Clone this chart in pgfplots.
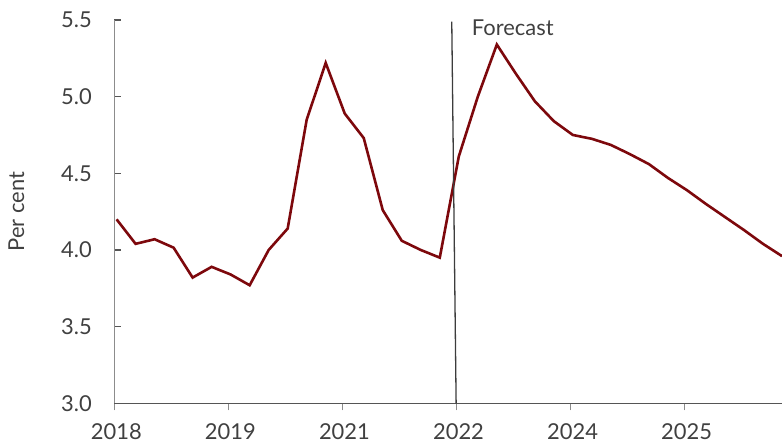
\documentclass[border=0pt]{standalone}
\usepackage{fontspec}
\setmainfont{Lato}
\usepackage{pgfplots}
\pgfplotsset{compat=1.18}
\definecolor{linered}{RGB}{125,8,12}
\definecolor{axisgray}{RGB}{140,140,140}
\definecolor{xaxisgray}{RGB}{85,85,85}
\definecolor{textgray}{RGB}{64,64,64}
\definecolor{fcgray}{RGB}{60,60,60}
\newcommand{\lblfont}{\fontsize{22}{26}\selectfont}
\begin{document}
\begin{tikzpicture}
\begin{axis}[
  scale only axis, width=667.7bp, height=383.3bp,
  xmin=-0.12, xmax=35, ymin=3, ymax=5.5,
  axis x line*=bottom, axis y line*=left,
  x axis line style={xaxisgray, line width=1.1bp, -},
  y axis line style={axisgray, line width=1.1bp, -},
  xtick={-0.12,5.88,11.88,17.88,23.88,29.88},
  xticklabels={2018,2019,2021,2022,2024,2025},
  ytick={3,3.5,4,4.5,5,5.5},
  /pgf/number format/assume math mode=true,
  yticklabel style={/pgf/number format/.cd, fixed, fixed zerofill, precision=1, /tikz/.cd, xshift=-19bp},
  xticklabel style={yshift=-10bp, xshift=2bp},
  xtick align=outside, ytick align=inside,
  xtick style={axisgray, line width=1.1bp},
  ytick style={xaxisgray, line width=1.1bp},
  major tick length=7bp,
  ticklabel style={font=\lblfont, text=textgray},
  ylabel={Per cent},
  every axis y label/.style={at={(axis description cs:-0.1468,0.5)}, rotate=90, anchor=center, font=\lblfont, text=textgray},
  clip=false,
]
\addplot[linered, line width=2.6bp, mark=none] coordinates {
(0,4.20) (1,4.04) (2,4.07) (3,4.015) (4,3.82) (5,3.89) (6,3.84) (7,3.77)
(8,4.00) (9,4.14) (10,4.85) (11,5.22) (12,4.89) (13,4.73) (14,4.26) (15,4.06)
(16,4.00) (17,3.95) (18,4.61) (19,5.00) (20,5.34) (21,5.15) (22,4.97) (23,4.84)
(24,4.75) (25,4.725) (26,4.685) (27,4.625) (28,4.56) (29,4.47) (30,4.39) (31,4.30)
(32,4.215) (33,4.13) (34,4.04) (35,3.96)
};
\draw[fcgray, line width=1.3bp] (axis cs:17.63,5.49) -- (axis cs:17.86,3.0);
\node[anchor=base west, inner sep=0pt, font=\lblfont, text=textgray] at (axis cs:18.68,5.40) {Forecast};
\end{axis}
\pgfresetboundingbox
\path[use as bounding box] ([shift={(-114.3bp,-41.7bp)}]current axis.south west) rectangle ([shift={(0bp,20bp)}]current axis.north east);
\end{tikzpicture}
\end{document}
